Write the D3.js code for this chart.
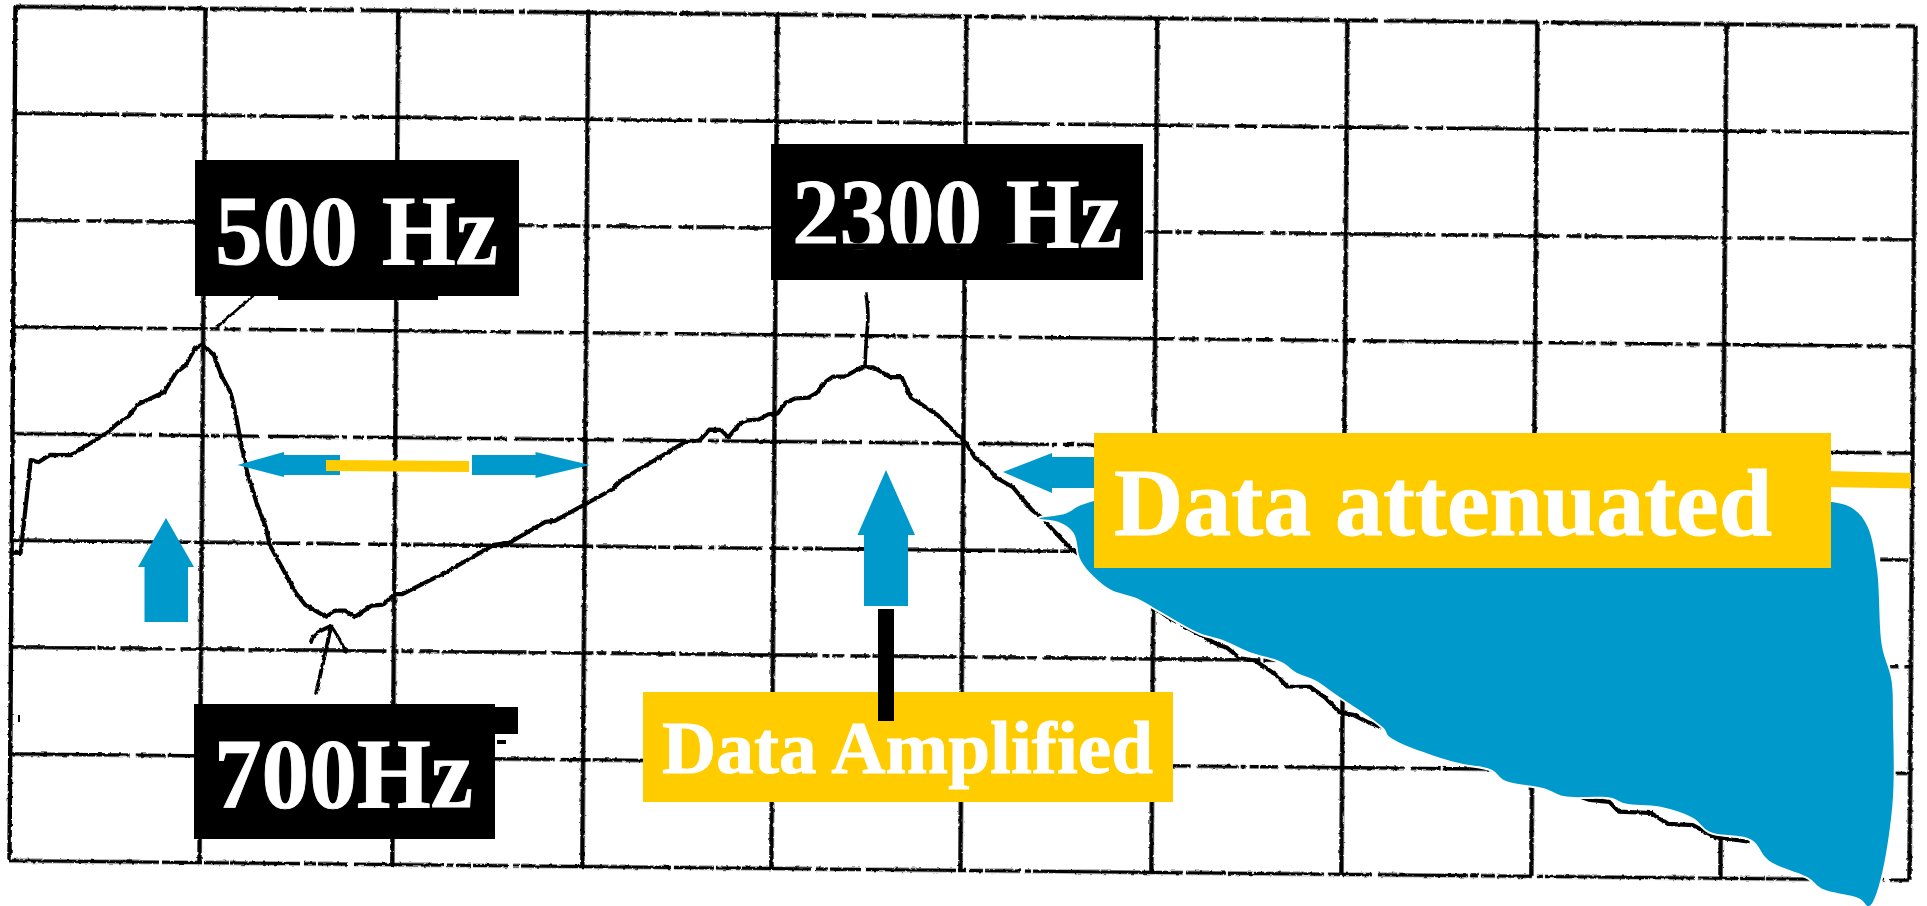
<!DOCTYPE html>
<html>
<head>
<meta charset="utf-8">
<script src="https://cdn.jsdelivr.net/npm/d3@7"></script>
<style>
  body { margin: 0; background: #fff; }
  svg { display: block; }
  text { font-family: "Liberation Serif", serif; font-weight: bold; fill: #fff; stroke: #fff; stroke-width: 0.9; }
</style>
</head>
<body>
<svg id="drawing_region"></svg>
<script>
// everything below is in grid divisions of the plotter paper (no printed scale)
const gridColumns = [0, 1, 2.015, 3.015, 4.01, 5.005, 6.01, 7.01, 8.01, 9.005, 10];
const gridRows = [0, 1, 2, 3, 4, 5, 6, 7, 8];

const curveU = [0.01, 0.05, 0.10, 0.14, 0.20, 0.31, 0.50, 0.56, 0.61, 0.66, 0.80, 0.86, 0.91, 0.96, 1.00,
  1.06, 1.10, 1.15, 1.18, 1.21, 1.24, 1.29, 1.34, 1.36, 1.50, 1.55, 1.66, 1.71, 1.76, 1.81,
  1.90, 1.96, 2.02, 2.06, 2.31, 2.54, 2.62, 2.81, 2.86, 3.16, 3.21, 3.31, 3.54, 3.62, 3.67,
  3.73, 3.77, 3.83, 3.87, 3.93, 3.98, 4.03, 4.07, 4.12, 4.19, 4.23, 4.28, 4.32, 4.38, 4.47,
  4.53, 4.62, 4.68, 4.73, 4.87, 5.02, 5.07, 5.13, 5.18, 5.27, 5.37, 5.42, 5.57, 6.09, 6.36,
  6.40, 6.47, 6.55, 6.66, 6.72, 6.84, 6.92, 7.00, 7.07, 7.15, 8.31, 8.42, 8.47, 8.64, 8.73,
  8.86, 8.98, 9.16];
const curveV = [2.88, 2.88, 3.75, 3.73, 3.80, 3.80, 4.01, 4.11, 4.16, 4.28, 4.40, 4.58, 4.65, 4.81, 4.85,
  4.75, 4.56, 4.40, 4.17, 3.89, 3.65, 3.37, 3.14, 2.98, 2.53, 2.42, 2.31, 2.37, 2.37, 2.31,
  2.42, 2.43, 2.53, 2.53, 2.76, 3.00, 3.02, 3.22, 3.23, 3.53, 3.62, 3.73, 3.98, 4.00, 4.10,
  4.10, 4.03, 4.16, 4.19, 4.20, 4.25, 4.26, 4.36, 4.40, 4.41, 4.45, 4.56, 4.61, 4.61, 4.70,
  4.70, 4.61, 4.61, 4.42, 4.26, 4.00, 3.86, 3.78, 3.68, 3.59, 3.38, 3.31, 3.03, 2.39, 2.13,
  2.11, 2.01, 1.99, 1.86, 1.75, 1.75, 1.65, 1.51, 1.49, 1.42, 0.72, 0.70, 0.61, 0.60, 0.50,
  0.49, 0.38, 0.34];

// blue highlight laid over the attenuated part of the curve
const patchU = [5.41, 5.55, 5.63, 5.80, 9.58, 9.70, 9.77, 9.82, 9.85, 9.90, 9.91, 9.91, 9.84, 9.79, 9.74,
  9.54, 9.47, 9.26, 9.17, 8.95, 8.86, 8.69, 8.50, 8.43, 8.18, 8.08, 7.87, 7.80, 7.60, 7.26,
  7.23, 6.97, 6.87, 6.77, 6.69, 6.52, 6.38, 6.26, 6.05, 5.93, 5.79, 5.70, 5.63, 5.59, 5.51];
const patchV = [3.30, 3.35, 3.43, 3.50, 3.53, 3.46, 3.30, 2.90, 2.18, 1.87, 1.49, 0.70, -0.07, -0.25, -0.18,
  -0.09, 0.01, 0.17, 0.36, 0.43, 0.56, 0.66, 0.69, 0.74, 0.75, 0.82, 0.89, 0.99, 1.06, 1.29,
  1.37, 1.69, 1.81, 1.88, 1.98, 2.07, 2.18, 2.24, 2.44, 2.56, 2.64, 2.76, 2.91, 3.17, 3.27];

const labels = ["500 Hz", "700Hz", "2300 Hz", "Data Amplified", "Data attenuated"];

const width = 1927, height = 906;
const blue = "#0099cc", yellow = "#ffcc00";

const svg = d3.select("#drawing_region").attr("width", width).attr("height", height);

// rough photocopy edge on the paper, fixed seed
const scan = svg.append("defs").append("filter").attr("id", "scan")
  .attr("filterUnits", "userSpaceOnUse")
  .attr("x", 0).attr("y", 0).attr("width", width).attr("height", height);
scan.append("feTurbulence").attr("type", "fractalNoise").attr("baseFrequency", 0.22)
  .attr("numOctaves", 2).attr("seed", 4).attr("result", "noise");
scan.append("feDisplacementMap").attr("in", "SourceGraphic").attr("in2", "noise")
  .attr("scale", 3).attr("xChannelSelector", "R").attr("yChannelSelector", "G");

const paper = svg.append("g").attr("filter", "url(#scan)");

// the scan is a little crooked, so the whole sheet is skewed
const sheet = paper.append("g").attr("transform", "matrix(1,0.0103,-0.007,1,0,0)");

const xscale = d3.scaleLinear().domain([0, 10]).range([15, 1915]);
const yscale = d3.scaleLinear().domain([0, 8]).range([860, 6]);

const xaxis = d3.axisBottom(xscale).tickValues(gridColumns).tickSize(-854).tickSizeOuter(0).tickFormat("");
const yaxis = d3.axisLeft(yscale).tickValues(gridRows).tickSize(-1900).tickSizeOuter(0).tickFormat("");

const xgroup = sheet.append("g").attr("transform", "translate(0,860)").call(xaxis);
const ygroup = sheet.append("g").attr("transform", "translate(15,0)").call(yaxis);
xgroup.select(".domain").remove();
ygroup.select(".domain").remove();

xgroup.selectAll("line").attr("stroke", "#000").attr("stroke-width", 4.4);

// photocopied rows break up into dashes
const dashes = [
  "150 3 40 2 25 1 70 4 12 2 30 6 90 2 8 3 14 2 35 5 6 2",
  "120 6 30 2 55 4 14 3 8 5 60 2 22 7 40 3 5 4 9 2 18 6",
  "85 2 18 5 42 3 9 6 64 4 26 2 110 5 7 3 12 6 20 2",
  "180 3 60 2 12 4 28 6 7 3 44 8 19 3 6 5 10 2",
  "95 5 24 3 13 7 50 2 8 4 36 9 71 3 5 6 11 3",
  "130 4 20 6 35 2 10 5 16 8 48 3 7 4 13 7 24 2",
  "66 7 15 3 38 4 92 2 11 6 27 3 6 2 9 5",
  "105 3 34 5 22 4 58 2 9 3 75 6 8 4 17 3"
];
ygroup.selectAll("line")
  .attr("stroke", "#000")
  .attr("stroke-width", (d, i) => i === 8 ? 4.2 : 3.4)
  .attr("stroke-dasharray", (d, i) => dashes[i % dashes.length]);

const line = d3.line().x(d => xscale(d[0])).y(d => yscale(d[1]));

sheet.append("path")
  .datum(curveU.map((u, i) => [u, curveV[i]]))
  .attr("d", line)
  .attr("fill", "none")
  .attr("stroke", "#000")
  .attr("stroke-width", 4.2)
  .attr("stroke-linejoin", "round");

// pen notes on the paper
const pen = d3.line().curve(d3.curveBasis);
function ink(points, w) {
  paper.append("path").attr("d", pen(points)).attr("fill", "none")
    .attr("stroke", "#000").attr("stroke-width", w).attr("stroke-linecap", "round");
}
ink([[253, 296], [232, 314], [216, 328]], 2.6);
ink([[866, 294], [869, 315], [866, 340], [865, 367]], 3.6);
ink([[316, 693], [322, 668], [328, 640], [331, 628]], 3.8);
ink([[311, 642], [313, 634], [331, 626]], 4);
ink([[331, 626], [338, 636], [346, 652]], 3.2);

// blue patch, white rim where it was cut around the trace
const patchLine = d3.line().x(d => xscale(d[0])).y(d => yscale(d[1]))
  .curve(d3.curveCatmullRomClosed.alpha(0.5));
svg.append("g").attr("transform", "matrix(1,0.0103,-0.007,1,0,0)")
  .append("path")
  .datum(patchU.map((u, i) => [u, patchV[i]]))
  .attr("d", patchLine)
  .attr("fill", blue)
  .attr("stroke", "#fff")
  .attr("stroke-width", 4)
  .attr("paint-order", "stroke");

function poly(points, fill) {
  svg.append("polygon").attr("points", points.join(" ")).attr("fill", fill);
}
function box(x, y, w, h, fill) {
  svg.append("rect").attr("x", x).attr("y", y).attr("width", w).attr("height", h).attr("fill", fill);
}

// arrows
poly([[166, 518], [194, 567], [188, 567], [188, 622], [144.5, 622], [144.5, 567], [138, 567]], blue);
poly([[886, 470], [915, 535], [908, 535], [908, 606], [864, 606], [864, 535], [857.5, 535]], blue);
poly([[237.5, 465], [284, 452], [284, 455], [340, 455], [340, 475], [284, 475], [284, 477]], blue);
poly([[590, 465], [535.5, 452], [535.5, 455], [472, 455], [472, 475], [535.5, 475], [535.5, 478]], blue);
poly([[1003, 472], [1052, 453], [1052, 457], [1100, 457], [1100, 488], [1052, 488], [1052, 493]], blue);
poly([[326, 460], [469, 461], [469, 472], [326, 471]], yellow);
poly([[1825, 471], [1911, 473], [1911, 488.5], [1825, 487]], yellow);

// label boxes
box(195, 160, 324, 136, "#000");
box(278, 290, 160, 10, "#000");
box(771, 144, 372, 136, "#000");
box(194, 704, 301, 135, "#000");
box(490, 707, 28, 27, "#000");
box(497, 740, 9, 4, "#000");
box(18, 715, 2, 7, "#000");
box(643, 692, 530, 110, yellow);
box(1094, 433, 737, 135, yellow);
box(878, 609, 16, 112, "#000");

// x, baseline, font size, width
const labelPos = [[215, 264, 100, 283], [214, 807, 100, 259], [792, 247, 99, 330], [662, 773, 75, 491], [1114, 535, 96, 658]];
svg.selectAll("text.label")
  .data(labels)
  .join("text")
  .attr("class", "label")
  .attr("x", (d, i) => labelPos[i][0])
  .attr("y", (d, i) => labelPos[i][1])
  .attr("font-size", (d, i) => labelPos[i][2])
  .attr("textLength", (d, i) => labelPos[i][3])
  .attr("lengthAdjust", "spacingAndGlyphs")
  .text(d => d);

// the digits of 2300 are cut flat in the original
box(790, 243.5, 254, 6, "#000");
</script>
</body>
</html>
